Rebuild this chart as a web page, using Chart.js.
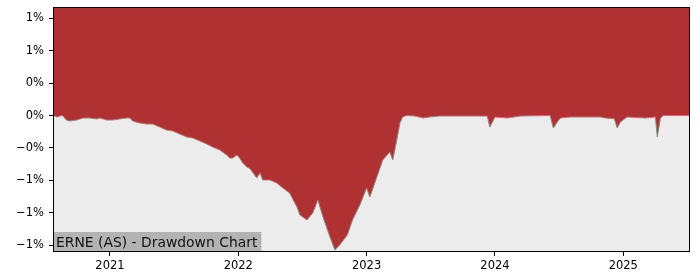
<!DOCTYPE html>
<html>
<head>
<meta charset="utf-8">
<script src="https://cdn.jsdelivr.net/npm/chart.js@4/dist/chart.umd.min.js"></script>
<style>
  html, body { margin: 0; padding: 0; background: #fff; }
  #wrap { width: 700px; height: 280px; position: relative; }
</style>
</head>
<body>
<div id="wrap"><canvas id="ddChart"></canvas></div>
<script>
// data (year as decimal, drawdown in %)
const years = [
  2020.556, 2020.587, 2020.61, 2020.63, 2020.66, 2020.686, 2020.74, 2020.79, 2020.84, 2020.90,
  2020.92, 2020.975, 2021.02, 2021.076, 2021.13, 2021.154, 2021.177, 2021.23, 2021.286, 2021.333,
  2021.388, 2021.44, 2021.49, 2021.543, 2021.598, 2021.645, 2021.70, 2021.754, 2021.80, 2021.855,
  2021.91, 2021.933, 2021.957, 2021.988, 2022.01, 2022.035, 2022.066, 2022.09, 2022.144, 2022.17,
  2022.19, 2022.245, 2022.30, 2022.347, 2022.40, 2022.457, 2022.48, 2022.535, 2022.58, 2022.62,
  2022.66, 2022.714, 2022.753, 2022.79, 2022.85, 2022.89, 2022.947, 2023.0, 2023.025, 2023.08,
  2023.126, 2023.18, 2023.204, 2023.235, 2023.26, 2023.28, 2023.313, 2023.376, 2023.44, 2023.49,
  2023.57, 2023.73, 2023.88, 2023.94, 2023.96, 2024.0, 2024.094, 2024.2, 2024.43, 2024.455,
  2024.486, 2024.51, 2024.587, 2024.82, 2024.86, 2024.93, 2024.953, 2024.977, 2025.03, 2025.17,
  2025.25, 2025.265, 2025.29, 2025.313, 2025.515
];
const drawdown = [
  0, -0.014, -0.005, 0, -0.042, -0.051, -0.042, -0.023, -0.023, -0.032,
  -0.023, -0.042, -0.042, -0.032, -0.023, -0.023, -0.051, -0.069, -0.079, -0.079,
  -0.107, -0.134, -0.144, -0.171, -0.199, -0.208, -0.236, -0.264, -0.292, -0.319,
  -0.366, -0.394, -0.394, -0.366, -0.394, -0.44, -0.477, -0.49, -0.579, -0.532,
  -0.597, -0.597, -0.625, -0.671, -0.718, -0.847, -0.921, -0.968, -0.903, -0.782,
  -0.94, -1.125, -1.245, -1.199, -1.106, -0.968, -0.829, -0.671, -0.755, -0.569,
  -0.412, -0.338, -0.412, -0.227, -0.069, -0.014, 0, -0.005, -0.023, -0.014,
  -0.005, -0.005, -0.005, -0.005, -0.107, -0.014, -0.023, -0.005, 0, -0.116,
  -0.06, -0.023, -0.014, -0.014, -0.023, -0.03, -0.116, -0.06, -0.014, -0.023,
  -0.014, -0.199, -0.023, 0, 0
];
const xTicks = [2021, 2022, 2023, 2024, 2025];
const yTicks = [0.9, 0.6, 0.3, 0, -0.3, -0.6, -0.9, -1.2];
const title = 'ERNE (AS) - Drawdown Chart';

const font = { family: 'DejaVu Sans', size: 11.5 };

// plot background, full frame and the title box
const framePlugin = {
  id: 'frame',
  beforeDraw(chart) {
    const a = chart.chartArea, c = chart.ctx;
    c.save();
    c.fillStyle = '#ececec';
    c.fillRect(a.left, a.top, a.right - a.left, a.bottom - a.top);
    c.restore();
  },
  afterDraw(chart) {
    const a = chart.chartArea, c = chart.ctx;
    c.save();
    c.strokeStyle = '#000';
    c.lineWidth = 1;
    c.strokeRect(a.left + 0.5, a.top + 0.5, a.right - a.left - 1, a.bottom - a.top - 1);
    c.font = '13.9px "DejaVu Sans"';
    const w = c.measureText(title).width;
    c.fillStyle = '#b3b3b3';
    c.fillRect(a.left + 1, a.bottom - 20, w + 6, 19);
    c.fillStyle = '#111';
    c.textBaseline = 'alphabetic';
    c.fillText(title, a.left + 3, a.bottom - 5);
    c.restore();
  }
};

const ctx = document.getElementById('ddChart').getContext('2d');
new Chart(ctx, {
  type: 'line',
  data: {
    datasets: [{
      data: years.map((x, i) => ({ x: x, y: drawdown[i] })),
      borderColor: '#8a8a8a',
      borderWidth: 1,
      backgroundColor: '#b03131',
      fill: 'end',
      pointRadius: 0,
      tension: 0
    }]
  },
  options: {
    responsive: true,
    maintainAspectRatio: false,
    animation: false,
    layout: { padding: { top: 7, right: 10, left: 0, bottom: 0 } },
    plugins: { legend: { display: false }, tooltip: { enabled: false } },
    scales: {
      x: {
        type: 'linear',
        min: 2020.556,
        max: 2025.52,
        afterBuildTicks: axis => { axis.ticks = xTicks.map(v => ({ value: v })); },
        afterFit: scale => { scale.height = 28; scale.paddingLeft = 0; scale.paddingRight = 0; },
        grid: { drawOnChartArea: false, drawTicks: true, tickLength: 4, color: '#000' },
        border: { display: false },
        ticks: { color: '#000', font: font, padding: 3, maxRotation: 0,
          callback: v => String(v) }
      },
      y: {
        min: -1.264,
        max: 1.005,
        afterBuildTicks: axis => { axis.ticks = yTicks.map(v => ({ value: v })); },
        afterFit: scale => { scale.width = 53; scale.paddingTop = 0; scale.paddingBottom = 0; },
        grid: { drawOnChartArea: false, drawTicks: true, tickLength: 4, color: '#000' },
        border: { display: false },
        ticks: { color: '#000', font: font, padding: 5,
          callback: v => {
            const s = Math.abs(v) < 1e-9 ? '0' : v.toFixed(0);
            return s.replace('-', '\u2212') + '%';
          } }
      }
    }
  },
  plugins: [framePlugin]
});
</script>
</body>
</html>
